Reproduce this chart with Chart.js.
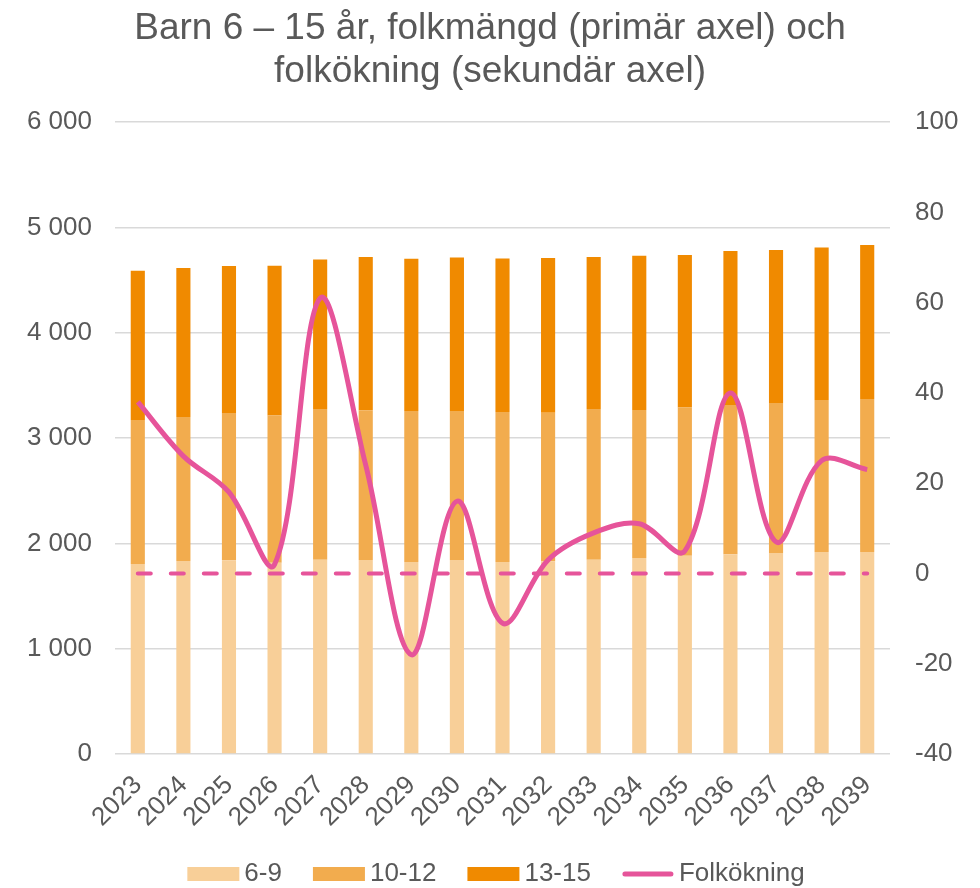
<!DOCTYPE html>
<html>
<head>
<meta charset="utf-8">
<script src="https://cdn.jsdelivr.net/npm/chart.js@4.4.1/dist/chart.umd.min.js"></script>
<style>
  html, body { margin: 0; padding: 0; background: #fff; }
</style>
</head>
<body>
<canvas id="chart" width="980" height="888"></canvas>
<script>
// kategorier
const years = ["2023", "2024", "2025", "2026", "2027", "2028", "2029", "2030", "2031",
  "2032", "2033", "2034", "2035", "2036", "2037", "2038", "2039"];

// folkmängd per åldersgrupp (primär axel)
const age6_9 = [1804, 1832, 1839, 1816, 1845, 1842, 1823, 1842, 1824, 1830, 1845, 1861, 1883, 1896, 1908, 1918, 1918];
const age10_12 = [1367, 1367, 1398, 1399, 1430, 1421, 1433, 1414, 1423, 1411, 1430, 1405, 1408, 1417, 1424, 1443, 1452];
const age13_15 = [1417, 1415, 1396, 1421, 1421, 1455, 1446, 1459, 1459, 1468, 1443, 1465, 1446, 1462, 1453, 1449, 1462];

// folkökning (sekundär axel)
const folkokning = [38, 26, 18, 2, 61, 24, -18, 16, -11, 3, 9, 11, 5, 40, 7, 25, 23];
const nollinje = [0, 0, 0, 0, 0, 0, 0, 0, 0, 0, 0, 0, 0, 0, 0, 0, 0];

const textColor = "#595959";
const fontFamily = "'Liberation Sans', Arial, sans-serif";

// egen legend längst ner, ritad som i Excel
const bottomLegend = {
  id: "bottomLegend",
  afterDraw(chart) {
    const ctx = chart.ctx;
    const items = chart.data.datasets.filter(ds => ds.label);
    const boxW = 52, boxH = 14, gapText = 5, gapItem = 31;
    ctx.save();
    ctx.font = "26px " + fontFamily;
    let total = 0;
    items.forEach((ds, i) => {
      total += boxW + gapText + ctx.measureText(ds.label).width;
      if (i < items.length - 1) total += gapItem;
    });
    let x = 496 - total / 2;
    const y = 874;
    items.forEach(ds => {
      if (ds.type === "line") {
        ctx.strokeStyle = ds.borderColor;
        ctx.lineWidth = 5;
        ctx.lineCap = "round";
        ctx.beginPath();
        ctx.moveTo(x + 3, y);
        ctx.lineTo(x + boxW - 3, y);
        ctx.stroke();
      } else {
        ctx.fillStyle = ds.backgroundColor;
        ctx.fillRect(x, y - boxH / 2, boxW, boxH);
      }
      ctx.fillStyle = textColor;
      ctx.textBaseline = "middle";
      ctx.textAlign = "left";
      ctx.fillText(ds.label, x + boxW + gapText, y);
      x += boxW + gapText + ctx.measureText(ds.label).width + gapItem;
    });
    ctx.restore();
  }
};

const thousands = (v) => String(v).replace(/\B(?=(\d{3})+(?!\d))/g, " ");

const data_chart = {
  labels: years,
  datasets: [
    {
      label: "6-9",
      data: age6_9,
      backgroundColor: "#F8CF98",
      yAxisID: "y",
      order: 2,
    },
    {
      label: "10-12",
      data: age10_12,
      backgroundColor: "#F2AC4E",
      yAxisID: "y",
      order: 2,
    },
    {
      label: "13-15",
      data: age13_15,
      backgroundColor: "#F08A00",
      yAxisID: "y",
      order: 2,
    },
    {
      type: "line",
      label: "Folkökning",
      data: folkokning,
      yAxisID: "y1",
      borderColor: "#E6549A",
      backgroundColor: "#E6549A",
      borderWidth: 5,
      pointRadius: 0,
      tension: 0.35,
      order: 0,
    },
    {
      type: "line",
      label: "",
      data: nollinje,
      yAxisID: "y1",
      borderColor: "#E6549A",
      borderWidth: 4,
      borderDash: [13, 20],
      borderCapStyle: "round",
      pointRadius: 0,
      order: 1,
    }
  ]
};

const config = {
  type: "bar",
  data: data_chart,
  options: {
    responsive: false,
    animation: false,
    layout: { padding: 0 },
    datasets: {
      bar: { barPercentage: 0.31, categoryPercentage: 1 }
    },
    plugins: {
      legend: { display: false },
      tooltip: { enabled: false },
      title: {
        display: true,
        text: ["Barn 6 – 15 år, folkmängd (primär axel) och", "folkökning (sekundär axel)"],
        color: textColor,
        font: { family: fontFamily, size: 37, weight: "normal", lineHeight: 1.15 },
        padding: { top: 8, bottom: 29 },
      },
    },
    scales: {
      x: {
        stacked: true,
        grid: { display: false, drawTicks: false },
        border: { display: false },
        ticks: {
          color: textColor,
          font: { family: fontFamily, size: 26 },
          minRotation: 45,
          maxRotation: 45,
          autoSkip: false,
          padding: 16,
        },
        afterFit: (scale) => { scale.height = 134; },
      },
      y: {
        stacked: true,
        position: "left",
        min: 0,
        max: 6000,
        grid: { color: "#D9D9D9", lineWidth: 1.5, drawTicks: false },
        border: { display: false },
        ticks: {
          stepSize: 1000,
          color: textColor,
          font: { family: fontFamily, size: 26 },
          padding: 23,
          callback: (v) => thousands(v),
        },
        afterFit: (scale) => { scale.width = 115; },
      },
      y1: {
        position: "right",
        min: -40,
        max: 100,
        grid: { display: false, drawTicks: false },
        border: { display: false },
        ticks: {
          stepSize: 20,
          color: textColor,
          font: { family: fontFamily, size: 26 },
          padding: 25,
        },
        afterFit: (scale) => { scale.width = 90; },
      },
    }
  },
  plugins: [bottomLegend],
};

const Charts = new Chart("chart", config);
</script>
</body>
</html>
